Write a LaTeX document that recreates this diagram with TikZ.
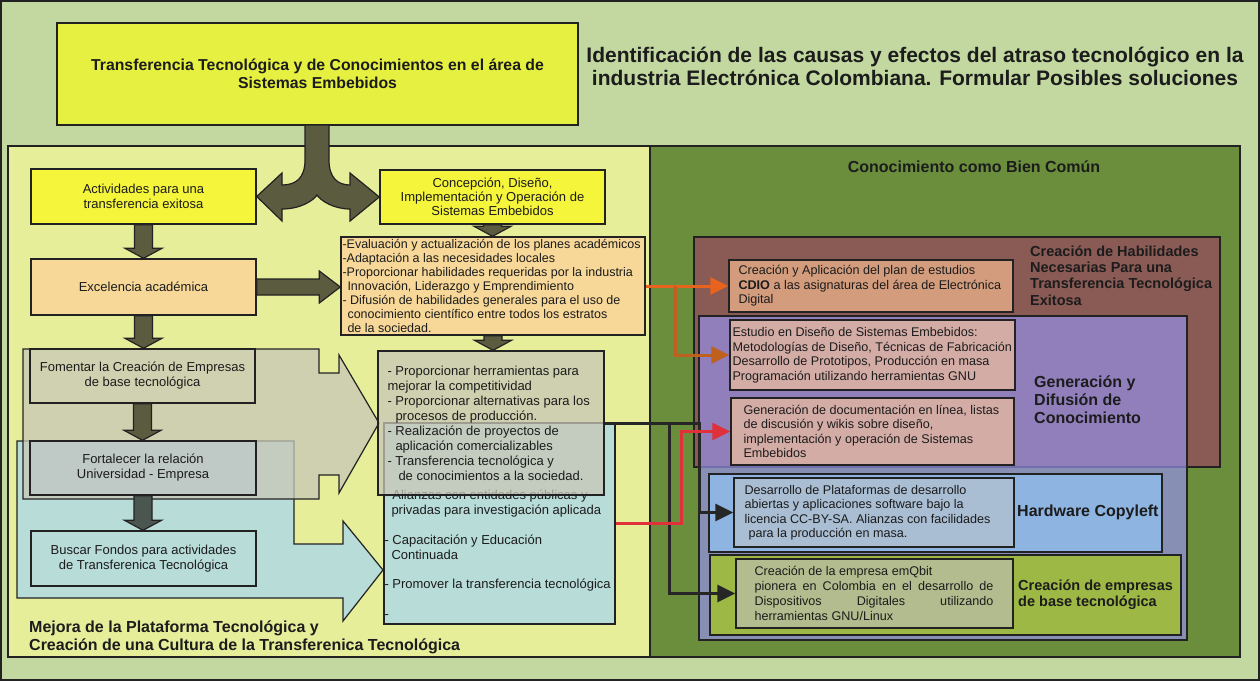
\documentclass[tikz,border=0pt]{standalone}
\usepackage{fontspec}
\setmainfont{Liberation Sans}
\usetikzlibrary{arrows.meta, positioning, calc}

\definecolor{bgGreen}{HTML}{C2D8A0}
\definecolor{titleYel}{HTML}{E6F040}
\definecolor{panelYel}{HTML}{E6EE9A}
\definecolor{panelOlive}{HTML}{6B8E3D}
\definecolor{boxYel}{HTML}{F5F53C}
\definecolor{boxOrg}{HTML}{F7D898}
\definecolor{arrOlive}{HTML}{5B5B40}
\definecolor{arrSlate}{HTML}{4B5650}
\definecolor{beige}{HTML}{C7C7B7}
\definecolor{beigeBox}{HTML}{CFD1B0}
\definecolor{blueLt}{HTML}{B8DCD8}
\definecolor{grayBlue}{HTML}{BFC9C6}
\definecolor{brownBox}{HTML}{8A5A55}
\definecolor{purpleBox}{HTML}{9590E8}
\definecolor{salmon}{HTML}{D39C7C}
\definecolor{pinkBox}{HTML}{D4ACA6}
\definecolor{skyBox}{HTML}{8EB4E2}
\definecolor{skyInner}{HTML}{A9BDD3}
\definecolor{limeBox}{HTML}{9DB844}
\definecolor{limeInner}{HTML}{B2BC8E}
\definecolor{lineDark}{HTML}{222222}
\definecolor{txtDark}{HTML}{1C1C1C}
\definecolor{lnOrange}{HTML}{E8641E}
\definecolor{lnOrangeDk}{HTML}{C0601E}
\definecolor{lnRed}{HTML}{E0303A}

\tikzset{
  box/.style     ={rectangle, draw=lineDark, line width=1.4pt, align=center,
                   inner sep=0pt, text=txtDark, font=\fontsize{13}{15}\selectfont},
  txt/.style     ={inner sep=0pt, align=left, text=txtDark,
                   font=\fontsize{13}{15}\selectfont},
  smalltxt/.style={txt, font=\fontsize{12.6}{14.5}\selectfont},
  lbl/.style     ={inner sep=0pt, align=left, text=txtDark,
                   font=\bfseries\fontsize{16}{18}\selectfont},
  callout/.style ={draw=lineDark, line width=1.2pt},
  blkdown/.style ={draw=lineDark, line width=1.2pt, fill=arrOlive,
                   to path={let \p1=(\tikztostart), \p2=(\tikztotarget) in
                     ({\x1-9pt},\y1) -- ({\x1-9pt},{\y2+10pt}) -- ({\x1-18.5pt},{\y2+10pt})
                     -- (\x1,\y2) -- ({\x1+18.5pt},{\y2+10pt}) -- ({\x1+9pt},{\y2+10pt})
                     -- ({\x1+9pt},\y1) -- cycle}},
  blkright/.style={draw=lineDark, line width=1.2pt, fill=arrOlive,
                   to path={let \p1=(\tikztostart), \p2=(\tikztotarget) in
                     (\x1,{\y1+8pt}) -- ({\x2-21pt},{\y1+8pt}) -- ({\x2-21pt},{\y1+16pt})
                     -- (\x2,\y1) -- ({\x2-21pt},{\y1-16pt}) -- ({\x2-21pt},{\y1-8pt})
                     -- (\x1,{\y1-8pt}) -- cycle}},
  conn/.style    ={line width=3pt, -{Triangle[length=18pt, width=17pt]}}
}

\begin{document}
\begin{tikzpicture}[x=1pt, y=-1pt]
  \useasboundingbox (0,0) rectangle (1260,681);
  \fill[bgGreen] (0,0) rectangle (1260,681);
  \draw[lineDark, line width=1.5pt] (1,1) rectangle (1259,680);

  % panels
  \draw[lineDark, line width=1.4pt, fill=panelYel] (8,146) rectangle (650,657);
  \draw[lineDark, line width=1.4pt, fill=panelOlive] (650,146) rectangle (1240,657);

  % top
  \node[box, fill=titleYel, minimum width=521, minimum height=102,
        font=\bfseries\fontsize{15.8}{17.5}\selectfont] (title) at (317.5,74)
        {Transferencia Tecnológica y de Conocimientos en el área de\\Sistemas Embebidos};
  \node[lbl, align=center, font=\bfseries\fontsize{21}{23}\selectfont] (goal) at (915,66)
        {Identificación de las causas y efectos del atraso tecnológico en la\\
         industria Electrónica Colombiana. Formular Posibles soluciones};

  % left column
  \node[box, fill=boxYel, minimum width=225, minimum height=55] (act) at (143.5,196.5)
        {Actividades para una\\transferencia exitosa};
  \node[box, fill=boxYel, minimum width=225, minimum height=54,
        font=\fontsize{13}{14.2}\selectfont] (concep) at (492.5,197)
        {Concepción, Diseño,\\Implementación y Operación de\\Sistemas Embebidos};
  \node[box, fill=boxOrg, minimum width=225, minimum height=56] (exc) at (143.5,287)
        {Excelencia académica};

  % fork arrow
  \draw[lineDark, line width=1.2pt, fill=arrOlive]
    (305,125) -- (329,125) -- (329,160) .. controls (329,178) and (338,185) .. (350,185)
    -- (350,173) -- (concep.west) -- (350,221) -- (350,209)
    .. controls (334,209) and (321,201) .. (317,195)
    .. controls (313,201) and (300,209) .. (282,209)
    -- (282,221) -- (act.east) -- (282,173) -- (282,185)
    .. controls (296,185) and (305,178) .. (305,160) -- cycle;

  % callouts
  \draw[callout, fill=blueLt] (17,441) -- (294,441) -- (294,544) -- (343,544) -- (343,521)
    -- (383,570) -- (343,621) -- (343,598) -- (17,598) -- cycle;
  \draw[callout, fill=beige, fill opacity=0.75] (23,349) -- (319,349) -- (319,373) -- (339,373)
    -- (339,355) -- (379,423) -- (339,493) -- (339,475) -- (319,475) -- (319,499) -- (23,499) -- cycle;

  \node[box, fill=beigeBox, minimum width=225, minimum height=54] (foment) at (142.5,376)
        {Fomentar la Creación de Empresas\\de base tecnológica};
  \node[box, fill=grayBlue, minimum width=226, minimum height=54] (fortal) at (143,468)
        {Fortalecer la relación\\Universidad - Empresa};
  \node[box, fill=blueLt, minimum width=225, minimum height=55] (buscar) at (143.5,558.5)
        {Buscar Fondos para actividades\\de Transferenica Tecnológica};

  % middle column
  \node[box, fill=boxOrg, minimum width=304, minimum height=98] (plan) at (493,286) {};
  \node[txt, font=\fontsize{12.5}{14.1}\selectfont, right=2pt of plan.west] (plan-txt)
        {-Evaluación y actualización de los planes académicos\\
         -Adaptación a las necesidades locales\\
         -Proporcionar habilidades requeridas por la industria\\
         \hspace*{5pt}Innovación, Liderazgo y Emprendimiento\\
         - Difusión de habilidades generales para el uso de\\
         \hspace*{5pt}conocimiento científico entre todos los estratos\\
         \hspace*{5pt}de la sociedad.};

  \node[box, fill=blueLt, minimum width=231, minimum height=201] (blueL) at (499.5,523.5) {};
  \node[txt, anchor=west] (blueL-txt) at ([shift={(1,31)}]blueL.west)
        {- Alianzas con entidades públicas y\\
         \hspace*{7pt}privadas para investigación aplicada\\[15pt]
         - Capacitación y Educación\\
         \hspace*{7pt}Continuada\\[14pt]
         - Promover la transferencia tecnológica\\[15pt]
         -};
  \node[box, fill=beige, fill opacity=0.75, minimum width=226, minimum height=144] (grayL) at (491,423) {};
  \node[txt, right=10pt of grayL.west] (grayL-txt)
        {- Proporcionar herramientas para\\
         mejorar la competitividad\\
         - Proporcionar alternativas para los\\
         \hspace*{8pt}procesos de producción.\\
         - Realización de proyectos de\\
         \hspace*{8pt}aplicación comercializables\\
         - Transferencia tecnológica y\\
         \hspace*{11pt}de conocimientos a la sociedad.};

  % block arrows
  \draw[blkdown] (act.south) to (exc.north);
  \draw[blkdown] (exc.south) to (foment.north);
  \draw[blkdown] (foment.south) to (fortal.north);
  \draw[blkdown, fill=arrSlate] (fortal.south) to (buscar.north);
  \draw[blkdown] (concep.south) to (plan.north);
  \draw[blkdown] (plan.south) to (grayL.north);
  \draw[blkright] (exc.east) to (plan.west);

  \node[lbl, anchor=west] (mejora-lbl) at (29,637)
        {Mejora de la Plataforma Tecnológica y\\Creación de una Cultura de la Transferenica Tecnológica};

  % right panel
  \node[lbl, anchor=center] (bien-lbl) at (974,167) {Conocimiento como Bien Común};

  \node[box, fill=brownBox, minimum width=526, minimum height=230] (habil) at (957,352) {};
  \node[lbl, font=\bfseries\fontsize{14.5}{16.4}\selectfont, anchor=west] (habil-lbl) at (1030,275.5)
        {Creación de Habilidades\\Necesarias Para una\\Transferencia Tecnológica\\Exitosa};
  \node[box, fill=salmon, minimum width=284, minimum height=52] (cdio) at (871,286) {};
  \node[smalltxt, right=10pt of cdio.west] (cdio-txt)
        {Creación y Aplicación del plan de estudios\\
         \textbf{CDIO} a las asignaturas del área de Electrónica\\
         Digital};

  \node[box, fill=purpleBox, fill opacity=0.7, minimum width=488, minimum height=324] (gener) at (943,478) {};
  \node[lbl, anchor=west] (gener-lbl) at (1034,400) {Generación y\\Difusión de\\Conocimiento};
  \node[box, fill=pinkBox, minimum width=285, minimum height=70] (estudio) at (872.5,355) {};
  \node[smalltxt, right=3pt of estudio.west] (estudio-txt)
        {Estudio en Diseño de Sistemas Embebidos:\\
         Metodologías de Diseño, Técnicas de Fabricación\\
         Desarrollo de Prototipos, Producción en masa\\
         Programación utilizando herramientas GNU};
  \node[box, fill=pinkBox, minimum width=283, minimum height=67] (gendoc) at (872.5,431.5) {};
  \node[smalltxt, right=13pt of gendoc.west] (gendoc-txt)
        {Generación de documentación en línea, listas\\
         de discusión y wikis sobre diseño,\\
         implementación y operación de Sistemas\\
         Embebidos};

  \node[box, fill=skyBox, minimum width=453, minimum height=78] (hwbox) at (935.5,513) {};
  \node[box, fill=skyInner, minimum width=280, minimum height=69] (desarr) at (874,512.5) {};
  \node[smalltxt, right=11pt of desarr.west] (desarr-txt)
        {Desarrollo de Plataformas de desarrollo\\
         abiertas y aplicaciones software bajo la\\
         licencia CC-BY-SA. Alianzas con facilidades\\
         \hspace*{4pt}para la producción en masa.};
  \node[lbl, anchor=west] (hw-lbl) at (1017,512) {Hardware Copyleft};

  \node[box, fill=limeBox, minimum width=471, minimum height=80] (empbox) at (945.5,595) {};
  \node[box, fill=limeInner, minimum width=277, minimum height=69] (emqbit) at (874.5,593.5) {};
  \node[smalltxt, font=\fontsize{12.6}{15}\selectfont, align=justify, text width=239,
        right=19pt of emqbit.west] (emqbit-txt)
        {Creación de la empresa emQbit\\
         pionera en Colombia en el desarrollo de\linebreak
         Dispositivos Digitales utilizando\linebreak
         herramientas GNU/Linux};
  \node[lbl, font=\bfseries\fontsize{14.5}{16}\selectfont, anchor=west] (emp-lbl) at (1018,595)
        {Creación de empresas\\de base tecnológica};

  % connectors
  \coordinate (orgKnee) at (675,286);
  \coordinate (redKnee) at (681,523.5);
  \coordinate (blkKneeA) at (669,423);
  \coordinate (blkKneeB) at (699,423);
  \draw[conn, lnOrange] (plan.east) -- (cdio.west);
  \draw[conn, lnOrangeDk] (orgKnee) |- (estudio.west);
  \draw[conn, black!85] (grayL.east) -- (blkKneeB) |- (desarr.west);
  \draw[conn, black!85] (blkKneeA) |- (emqbit.west);
  \draw[conn, lnRed] (blueL.east) -- (redKnee) |- (gendoc.west);
\end{tikzpicture}
\end{document}
